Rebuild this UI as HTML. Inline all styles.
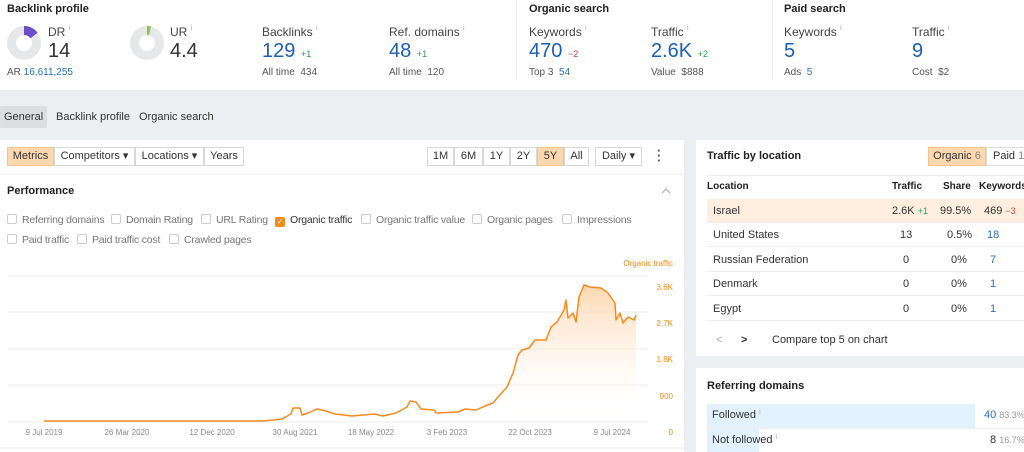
<!DOCTYPE html>
<html><head><style>
*{margin:0;padding:0;box-sizing:border-box}
body{width:1024px;height:452px;overflow:hidden;background:#eceef1;font-family:"Liberation Sans",sans-serif;color:#333;position:relative}
.a{position:absolute;white-space:nowrap}
.h{font-weight:bold;font-size:11px;color:#222}
.lbl{font-size:12px;color:#444}
.sup{font-size:7px;color:#aaa;vertical-align:top}
.big{font-size:20px;color:#1d5fb6}
.bk{color:#333}
.sm{font-size:10px;color:#555}
.bl{color:#2a6fc2}
.gr{font-size:9px;color:#2a9a4a}
.rd{font-size:9px;color:#e04040}
.btn{position:absolute;top:147px;height:19px;border:1px solid #d8d8d8;background:#fff;font-size:11px;color:#333;line-height:17px;text-align:center}
.cb{display:inline-block;width:10px;height:10px;border:1px solid #ccc;border-radius:2px;vertical-align:-1px;margin-right:5px}
.ck{font-size:10.5px;color:#777;letter-spacing:-0.2px}
.row{position:absolute;left:707px;width:317px;height:24px;border-bottom:1px solid #eee;font-size:11px;color:#333}
.row > span{position:absolute;top:6px}
</style></head><body>
<div class="a" style="left:0;top:0;width:1024px;height:90px;background:#fff"></div>
<div class="a" style="left:516px;top:0;width:1px;height:80px;background:#eee"></div>
<div class="a" style="left:772px;top:0;width:1px;height:80px;background:#eee"></div>
<div class="a h" style="left:7px;top:3px">Backlink profile</div>
<div class="a h" style="left:529px;top:3px">Organic search</div>
<div class="a h" style="left:784px;top:3px">Paid search</div>
<svg class="a" style="left:6px;top:25px" width="36" height="36"><circle cx="18" cy="18" r="12.5" fill="none" stroke="#e6e7e9" stroke-width="9"/><path d="M18 5.5 A12.5 12.5 0 0 1 28 10.5" fill="none" stroke="#6a4fc8" stroke-width="9"/></svg>
<svg class="a" style="left:129px;top:25px" width="36" height="36"><circle cx="18" cy="18" r="12.5" fill="none" stroke="#e6e7e9" stroke-width="9"/><path d="M18 5.5 A12.5 12.5 0 0 1 21 5.8" fill="none" stroke="#8bc34a" stroke-width="9"/></svg>
<div class="a lbl" style="left:48px;top:25px">DR <span class="sup">i</span></div>
<div class="a big bk" style="left:48px;top:40px">14</div>
<div class="a sm" style="left:7px;top:67px">AR <span class="bl">16,611,255</span></div>
<div class="a lbl" style="left:170px;top:25px">UR <span class="sup">i</span></div>
<div class="a big bk" style="left:170px;top:40px">4.4</div>
<div class="a lbl" style="left:262px;top:25px">Backlinks <span class="sup">i</span></div>
<div class="a big" style="left:262px;top:40px">129 <span class="gr">+1</span></div>
<div class="a sm" style="left:262px;top:67px">All time &nbsp;434</div>
<div class="a lbl" style="left:389px;top:25px">Ref. domains <span class="sup">i</span></div>
<div class="a big" style="left:389px;top:40px">48 <span class="gr">+1</span></div>
<div class="a sm" style="left:389px;top:67px">All time &nbsp;120</div>
<div class="a lbl" style="left:529px;top:25px">Keywords <span class="sup">i</span></div>
<div class="a big" style="left:529px;top:40px">470 <span class="rd">−2</span></div>
<div class="a sm" style="left:529px;top:67px">Top 3 &nbsp;<span class="bl">54</span></div>
<div class="a lbl" style="left:651px;top:25px">Traffic <span class="sup">i</span></div>
<div class="a big" style="left:651px;top:40px">2.6K <span class="gr">+2</span></div>
<div class="a sm" style="left:651px;top:67px">Value &nbsp;$888</div>
<div class="a lbl" style="left:784px;top:25px">Keywords <span class="sup">i</span></div>
<div class="a big" style="left:784px;top:40px">5</div>
<div class="a sm" style="left:784px;top:67px">Ads &nbsp;<span class="bl">5</span></div>
<div class="a lbl" style="left:912px;top:25px">Traffic <span class="sup">i</span></div>
<div class="a big" style="left:912px;top:40px">9</div>
<div class="a sm" style="left:912px;top:67px">Cost &nbsp;$2</div>

<div class="a" style="left:0;top:106px;width:47px;height:22px;background:#dcdee2;border-radius:2px"></div>
<div class="a" style="left:4px;top:111px;font-size:11px;color:#333">General</div>
<div class="a" style="left:56px;top:111px;font-size:11px;color:#333">Backlink profile</div>
<div class="a" style="left:139px;top:111px;font-size:11px;color:#333">Organic search</div>

<div class="a" style="left:0;top:140px;width:684px;height:312px;background:#fff"></div>
<div class="btn" style="left:7px;width:47px;background:#fdd8ae;border-color:#f5c38e">Metrics</div>
<div class="btn" style="left:54px;width:81px">Competitors ▾</div>
<div class="btn" style="left:135px;width:69px">Locations ▾</div>
<div class="btn" style="left:204px;width:40px">Years</div>
<div class="btn" style="left:427px;width:27px">1M</div>
<div class="btn" style="left:454px;width:29px">6M</div>
<div class="btn" style="left:483px;width:27px">1Y</div>
<div class="btn" style="left:510px;width:27px">2Y</div>
<div class="btn" style="left:537px;width:27px;background:#fdd8ae;border-color:#f5c38e">5Y</div>
<div class="btn" style="left:564px;width:25px">All</div>
<div class="btn" style="left:595px;width:47px">Daily ▾</div>
<div class="a" style="left:657px;top:148px;font-size:13px;font-weight:bold;color:#555;line-height:5px">·<br>·<br>·</div>
<div class="a" style="left:0;top:174px;width:684px;height:1px;background:#f0f0f0"></div>
<div class="a h" style="left:7px;top:185px">Performance</div>
<svg class="a" style="left:661px;top:187px" width="10" height="8"><path d="M1 6 L5 2 L9 6" fill="none" stroke="#aaa"/></svg>
<div class="a ck" style="left:7px;top:214px"><span class="cb"></span>Referring domains</div>
<div class="a ck" style="left:111px;top:214px"><span class="cb"></span>Domain Rating</div>
<div class="a ck" style="left:201px;top:214px"><span class="cb"></span>URL Rating</div>
<div class="a ck" style="left:275px;top:214px;color:#333"><span class="cb" style="background:#f78a1d;border-color:#f78a1d;color:#fff;font-size:8px;line-height:8px;text-align:center">✓</span>Organic traffic</div>
<div class="a ck" style="left:361px;top:214px"><span class="cb"></span>Organic traffic value</div>
<div class="a ck" style="left:472px;top:214px"><span class="cb"></span>Organic pages</div>
<div class="a ck" style="left:562px;top:214px"><span class="cb"></span>Impressions</div>
<div class="a ck" style="left:7px;top:234px"><span class="cb"></span>Paid traffic</div>
<div class="a ck" style="left:77px;top:234px"><span class="cb"></span>Paid traffic cost</div>
<div class="a ck" style="left:169px;top:234px"><span class="cb"></span>Crawled pages</div>

<svg class="a" style="left:0;top:255px" width="684" height="197">
<defs><linearGradient id="g" x1="0" y1="0" x2="0" y2="1"><stop offset="0" stop-color="#fdd3a8" stop-opacity=".9"/><stop offset="1" stop-color="#fff" stop-opacity="0"/></linearGradient></defs>
<g stroke="#eee" stroke-width="1"><line x1="8" y1="21" x2="648" y2="21"/><line x1="8" y1="57" x2="648" y2="57"/><line x1="8" y1="94" x2="648" y2="94"/><line x1="8" y1="130" x2="648" y2="130"/><line x1="8" y1="167" x2="648" y2="167"/></g>
<path id="p" d="M44 166 L264 166 L282 164 L291 159 L293 153 L300 153 L302 160 L308 158 L317 154 L326 156 L335 159 L352 161 L374 159 L383 161 L396 158 L407 152 L410 146 L416 147 L421 154 L434 155 L436 158 L458 157 L465 154 L476 155 L485 151 L493 148 L498 142 L507 132 L513 118 L518 100 L522 95 L529 93 L535 85 L546 85 L551 72 L557 67 L564 55 L566 45 L568 63 L573 58 L576 67 L579 42 L584 30 L590 32 L601 33 L608 38 L615 48 L616 65 L620 58 L623 68 L628 62 L634 65 L636 60 L636 167 L44 167 Z" fill="url(#g)"/>
<path d="M44 166 L264 166 L282 164 L291 159 L293 153 L300 153 L302 160 L308 158 L317 154 L326 156 L335 159 L352 161 L374 159 L383 161 L396 158 L407 152 L410 146 L416 147 L421 154 L434 155 L436 158 L458 157 L465 154 L476 155 L485 151 L493 148 L498 142 L507 132 L513 118 L518 100 L522 95 L529 93 L535 85 L546 85 L551 72 L557 67 L564 55 L566 45 L568 63 L573 58 L576 67 L579 42 L584 30 L590 32 L601 33 L608 38 L615 48 L616 65 L620 58 L623 68 L628 62 L634 65 L636 60" fill="none" stroke="#f78a1d" stroke-width="1.5" stroke-linejoin="round"/>
<g font-family="Liberation Sans" font-size="8" fill="#f78a1d" text-anchor="end"><text x="673" y="11">Organic traffic</text><text x="673" y="35">3.6K</text><text x="673" y="71">2.7K</text><text x="673" y="107">1.8K</text><text x="673" y="144">900</text><text x="673" y="180">0</text></g>
<g font-family="Liberation Sans" font-size="8" fill="#888" text-anchor="middle"><text x="44" y="180">9 Jul 2019</text><text x="127" y="180">26 Mar 2020</text><text x="212" y="180">12 Dec 2020</text><text x="295" y="180">30 Aug 2021</text><text x="371" y="180">18 May 2022</text><text x="447" y="180">3 Feb 2023</text><text x="530" y="180">22 Oct 2023</text><text x="612" y="180">9 Jul 2024</text></g>
<line x1="0" y1="193" x2="684" y2="193" stroke="#eee"/>
</svg>

<div class="a" style="left:696px;top:140px;width:328px;height:216px;background:#fff"></div>
<div class="a h" style="left:707px;top:150px">Traffic by location</div>
<div class="a" style="left:928px;top:147px;width:58px;height:19px;background:#fdd8ae;border:1px solid #f5c38e;font-size:11px;line-height:17px;text-align:center;color:#333">Organic <span style="color:#888">6</span></div>
<div class="a" style="left:986px;top:147px;width:40px;height:19px;background:#fff;border:1px solid #ddd;font-size:11px;line-height:17px;padding-left:6px;color:#333">Paid <span style="color:#888">1</span></div>
<div class="a" style="left:707px;top:175px;width:317px;height:1px;background:#eee"></div>
<div class="a" style="left:707px;top:181px;font-size:10px;font-weight:bold;color:#222">Location</div>
<div class="a" style="left:892px;top:181px;font-size:10px;font-weight:bold;color:#222">Traffic</div>
<div class="a" style="left:943px;top:181px;font-size:10px;font-weight:bold;color:#222">Share</div>
<div class="a" style="left:979px;top:181px;font-size:10px;font-weight:bold;color:#222">Keywords</div>
<div class="row" style="top:199px;background:#fdeee0"><span style="left:6px">Israel</span><span style="left:185px">2.6K <span class="gr">+1</span></span><span style="left:233px">99.5%</span><span style="left:277px">469 <span class="rd">−3</span></span></div>
<div class="row" style="top:223px"><span style="left:6px">United States</span><span style="left:193px">13</span><span style="left:240px">0.5%</span><span style="left:280px;color:#2a6fc2">18</span></div>
<div class="row" style="top:248px"><span style="left:6px">Russian Federation</span><span style="left:196px">0</span><span style="left:244px">0%</span><span style="left:283px;color:#2a6fc2">7</span></div>
<div class="row" style="top:272px"><span style="left:6px">Denmark</span><span style="left:196px">0</span><span style="left:244px">0%</span><span style="left:283px;color:#2a6fc2">1</span></div>
<div class="row" style="top:297px"><span style="left:6px">Egypt</span><span style="left:196px">0</span><span style="left:244px">0%</span><span style="left:283px;color:#2a6fc2">1</span></div>
<div class="a" style="left:716px;top:334px;font-size:11px;color:#aaa">&lt;</div>
<div class="a" style="left:741px;top:334px;font-size:11px;color:#333;font-weight:bold">&gt;</div>
<div class="a" style="left:772px;top:334px;font-size:11px;color:#333">Compare top 5 on chart</div>

<div class="a" style="left:696px;top:368px;width:328px;height:84px;background:#fff"></div>
<div class="a h" style="left:707px;top:380px">Referring domains</div>
<div class="a" style="left:707px;top:404px;width:268px;height:24px;background:#e3f1fd"></div>
<div class="a" style="left:707px;top:428px;width:317px;height:1px;background:#eee"></div>
<div class="a" style="left:707px;top:429px;width:52px;height:23px;background:#e3f1fd"></div>
<div class="a" style="left:712px;top:409px;font-size:11px;color:#333">Followed <span class="sup">i</span></div>
<div class="a" style="left:712px;top:434px;font-size:11px;color:#333">Not followed <span class="sup">i</span></div>
<div class="a" style="left:984px;top:409px;font-size:11px;color:#2a6fc2">40 <span style="font-size:9px;color:#999">83.3%</span></div>
<div class="a" style="left:990px;top:434px;font-size:11px;color:#333">8 <span style="font-size:9px;color:#999">16.7%</span></div>
</body></html>
